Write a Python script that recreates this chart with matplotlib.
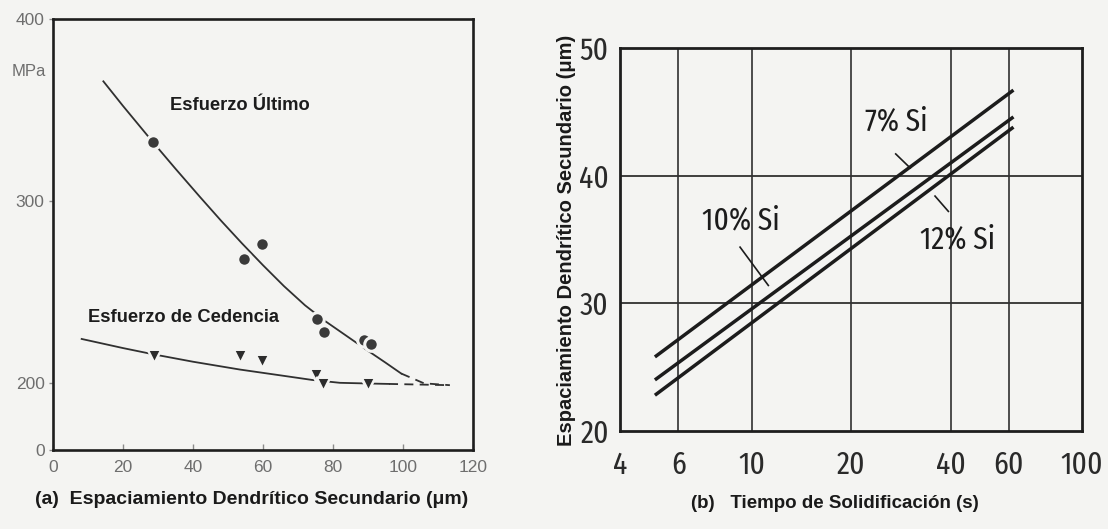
import numpy as np
import matplotlib
matplotlib.use("Agg")
import matplotlib.pyplot as plt
from matplotlib.ticker import FixedLocator, NullLocator

# ---------------------------------------------------------------- data
# (a) strength vs. secondary dendrite arm spacing (um)
sdas_uts = [28.6, 54.7, 59.6, 75.5, 77.3, 89.0, 91.0]
uts_mpa = [332, 268, 276, 235, 228, 223.5, 221]
sdas_ys = [28.9, 53.4, 59.6, 75.1, 77.2, 89.8, 90.0]
ys_mpa = [214.8, 214.8, 212.0, 204.1, 195.0, 199.1, 194.8]

# hand-drawn trend curves (solid part, then dashed extrapolation)
uts_fit_x = [14.4, 20, 28.6, 35, 42, 48, 54, 60, 66, 72, 78, 84, 90, 95, 99.5]
uts_fit_y = [365.5, 352, 332, 317.5, 302, 289, 276.5, 264.5, 253, 242.5, 233.5, 225.5, 217.5, 211, 205]
uts_ext_x = [99.5, 106, 113.4]
uts_ext_y = [205, 198, 192.5]

ys_fit_x = [8.2, 20, 28.6, 40, 53.4, 65, 74, 82, 90, 96]
ys_fit_y = [224, 219, 215.6, 211.5, 207.2, 204, 201.5, 199.5, 197.5, 196.2]
ys_ext_x = [96, 104, 113.4]
ys_ext_y = [196.2, 194.5, 192.5]

uts_label = "Esfuerzo Último"
ys_label = "Esfuerzo de Cedencia"
xticks_a = [0, 20, 40, 60, 80, 100, 120]
yticks_a = [0, 200, 300, 400]

# (b) secondary dendrite arm spacing vs. solidification time (s)
time_s = [5.1, 62]
sdas_7si = [25.8, 46.7]
sdas_10si = [24.0, 44.6]
sdas_12si = [22.8, 43.8]
xticks_b = [4, 6, 10, 20, 40, 60, 100]
yticks_b = [20, 30, 40, 50]
grid_x_b = [6, 10, 20, 40, 60]
grid_y_b = [30, 40]

# ---------------------------------------------------------------- style
BG = "#f4f4f2"
GREY = "#6e6e6e"
SANS = ["Liberation Sans", "DejaVu Sans"]
NARROW = ["Fira Sans Extra Condensed", "Roboto Condensed", "DejaVu Sans"]

fig = plt.figure(figsize=(11.08, 5.29), dpi=100, facecolor=BG)

# ---------------------------------------------------------------- panel (a)
axa = fig.add_axes([0.0478, 0.1493, 0.3791, 0.8157], facecolor=BG)

# broken y axis: the 0-200 MPa range is squeezed into a short band
SQ = 0.185


def fwd(y):
    y = np.asarray(y, dtype=float)
    return np.where(y >= 200, y, 200 - (200 - y) * SQ)


def inv(v):
    v = np.asarray(v, dtype=float)
    return np.where(v >= 200, v, 200 - (200 - v) / SQ)


axa.set_yscale("function", functions=(fwd, inv))
axa.set_xlim(0, 120)
axa.set_ylim(0, 400)

line_kw = dict(color="#303030", lw=1.3)
axa.plot(uts_fit_x, uts_fit_y, **line_kw, zorder=2)
axa.plot(uts_ext_x, uts_ext_y, **line_kw, ls=(0, (5, 3.5)), zorder=2)
axa.plot(ys_fit_x, ys_fit_y, **line_kw, zorder=2)
axa.plot(ys_ext_x, ys_ext_y, **line_kw, ls=(0, (5, 3.5)), zorder=2)

axa.scatter(sdas_uts, uts_mpa, s=95, marker="o", color="#3a3a3a",
            edgecolors=BG, linewidths=2.2, zorder=3)
axa.scatter(sdas_ys, ys_mpa, s=95, marker="v", color="#2c2c2c",
            edgecolors=BG, linewidths=1.8, zorder=3)

axa.text(53.5, 352, uts_label, ha="center", va="center", fontsize=13.2,
         fontweight="bold", family=SANS, color="#1c1c1c")
axa.text(37.2, 236, ys_label, ha="center", va="center", fontsize=13.2,
         fontweight="bold", family=SANS, color="#1c1c1c")

axa.set_xticks(xticks_a)
axa.set_yticks(yticks_a)
axa.set_xticklabels([str(v) for v in xticks_a])
axa.set_yticklabels([str(v) for v in yticks_a])
axa.tick_params(axis="x", direction="in", length=4, width=1, color="#8a8a8a",
                pad=7, labelsize=12.5, labelcolor=GREY)
axa.tick_params(axis="y", direction="out", length=3, width=1, color="#8a8a8a",
                pad=3, labelsize=12.5, labelcolor=GREY)
for lab in axa.get_xticklabels() + axa.get_yticklabels():
    lab.set_family(SANS)
for sp in axa.spines.values():
    sp.set_linewidth(1.9)
    sp.set_color("#1e1e1e")

fig.text(29 / 1108, 1 - 72 / 529, "MPa", ha="center", va="center",
         fontsize=12, color=GREY, family=SANS)
fig.text(252 / 1108, 1 - 500 / 529,
         "(a)  Espaciamiento Dendrítico Secundario (μm)",
         ha="center", va="center", fontsize=14, fontweight="bold",
         family=SANS, color="#1a1a1a")

# ---------------------------------------------------------------- panel (b)
axb = fig.add_axes([0.5596, 0.1853, 0.4170, 0.7240], facecolor=BG)
axb.set_xscale("log")
axb.set_xlim(4, 100)
axb.set_ylim(20, 50)

for gx in grid_x_b:
    axb.axvline(gx, color="#303030", lw=1.2, zorder=1)
for gy in grid_y_b:
    axb.axhline(gy, color="#303030", lw=1.3, zorder=1)

si_kw = dict(color="#1c1c1c", lw=2.5, solid_capstyle="butt", zorder=3)
axb.plot(time_s, sdas_7si, **si_kw)
axb.plot(time_s, sdas_10si, **si_kw)
axb.plot(time_s, sdas_12si, **si_kw)

lab_kw = dict(ha="center", va="center", fontsize=23, family=NARROW,
              color="#1c1c1c", zorder=4)
axb.text(27.4, 44.2, "7% Si", **lab_kw)
axb.text(9.26, 36.5, "10% Si", **lab_kw)
axb.text(41.9, 35.0, "12% Si", **lab_kw)

ptr_kw = dict(color="#1c1c1c", lw=1.2, zorder=4)
axb.plot([27.3, 30.2], [41.7, 40.6], **ptr_kw)
axb.plot([9.23, 11.24], [34.4, 31.4], **ptr_kw)
axb.plot([35.9, 39.4], [38.4, 37.2], **ptr_kw)

axb.xaxis.set_major_locator(FixedLocator(xticks_b))
axb.xaxis.set_minor_locator(NullLocator())
axb.set_xticklabels([str(v) for v in xticks_b])
axb.set_yticks(yticks_b)
axb.set_yticklabels([str(v) for v in yticks_b])
axb.tick_params(axis="both", length=0, labelsize=23, labelcolor="#2a2a2a")
axb.tick_params(axis="x", pad=14)
axb.tick_params(axis="y", pad=8)
for lab in axb.get_xticklabels() + axb.get_yticklabels():
    lab.set_family(NARROW)
for sp in axb.spines.values():
    sp.set_linewidth(2.0)
    sp.set_color("#1e1e1e")

fig.text(566 / 1108, 1 - 240 / 529,
         "Espaciamiento Dendrítico Secundario (μm)",
         ha="center", va="center", rotation=90, fontsize=14.5,
         fontweight="bold", family=SANS, color="#1a1a1a")
fig.text(835 / 1108, 1 - 503 / 529, "(b)   Tiempo de Solidificación (s)",
         ha="center", va="center", fontsize=13.5, fontweight="bold",
         family=SANS, color="#1a1a1a")

fig.savefig("out.png", dpi=100, facecolor=BG)
